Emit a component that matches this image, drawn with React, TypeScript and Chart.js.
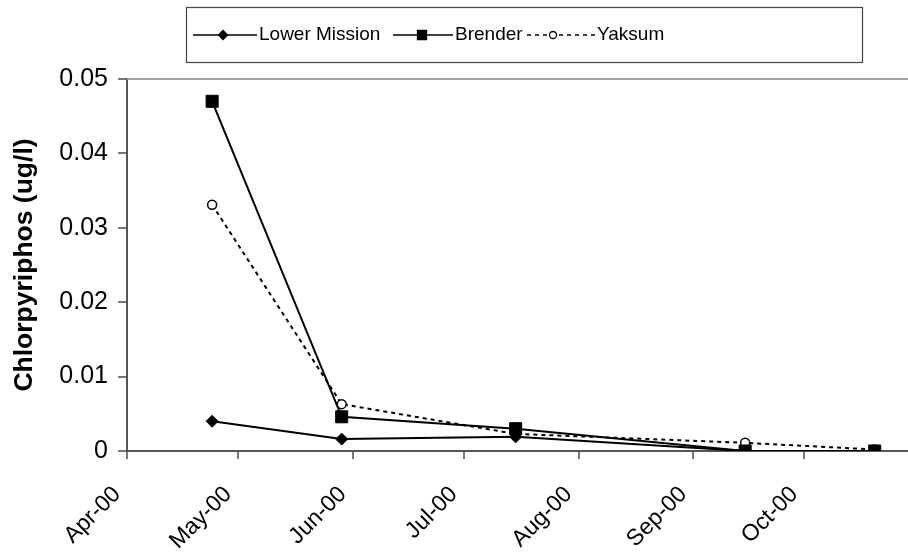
import React, { useEffect, useRef } from "react";
import { Chart, registerables } from "chart.js";

Chart.register(...registerables);

const seriesNames = ["Lower Mission", "Brender", "Yaksum"];
const sampleDates = ["2000-04-24", "2000-05-29", "2000-07-15", "2000-09-15", "2000-10-20"];
const lowerMission = [0.004, 0.0016, 0.0019, 0.0, 0.0];
const brender = [0.047, 0.0046, 0.003, 0.0, 0.0];
const yaksum = [0.0331, 0.0063, 0.0023, 0.0011, 0.0002];
const xTickDates = ["2000-04-01", "2000-05-01", "2000-06-01", "2000-07-01", "2000-08-01", "2000-09-01", "2000-10-01"];
const xTickLabels = ["Apr-00", "May-00", "Jun-00", "Jul-00", "Aug-00", "Sep-00", "Oct-00"];
const xMinDate = "2000-04-01";
const xMaxDate = "2000-10-29";
const yTickValues = [0, 0.01, 0.02, 0.03, 0.04, 0.05];
const yTickLabels = ["0", "0.01", "0.02", "0.03", "0.04", "0.05"];
const yTitle = "Chlorpyriphos (ug/l)";

const FONT = "'Liberation Sans', Arial, sans-serif";
const DAY = 86400000;
const base = Date.UTC(2000, 3, 1);
const toDay = (s: string) => {
  const [y, m, d] = s.split("-").map(Number);
  return (Date.UTC(y, m - 1, d) - base) / DAY;
};

function drawMarker(ctx: CanvasRenderingContext2D, style: string, x: number, y: number, r: number, fill: string) {
  ctx.save();
  ctx.beginPath();
  if (style === "rectRot") {
    ctx.moveTo(x, y - r);
    ctx.lineTo(x + r, y);
    ctx.lineTo(x, y + r);
    ctx.lineTo(x - r, y);
    ctx.closePath();
  } else if (style === "rect") {
    ctx.rect(x - r, y - r, 2 * r, 2 * r);
  } else {
    ctx.arc(x, y, r, 0, Math.PI * 2);
  }
  ctx.fillStyle = fill;
  ctx.fill();
  ctx.setLineDash([]);
  ctx.lineWidth = 1.3;
  ctx.strokeStyle = "#000";
  ctx.stroke();
  ctx.restore();
}

// legend layout (box and entry placement)
const legendBox = { l: 186, t: 7, r: 862, b: 62 };
const legendEntryX = [193, 393, 527];
const legendSampleW = [64, 60, 68];
const legendMarkerOff = [30, 29, 26];
const legendMarkers = [
  { style: "rectRot", r: 4.5, fill: "#000" },
  { style: "rect", r: 4.5, fill: "#000" },
  { style: "circle", r: 3.5, fill: "#fff" },
];

const legendPlugin = {
  id: "excelLegend",
  afterDraw(chart: any) {
    const ctx = chart.ctx as CanvasRenderingContext2D;
    const { l, t, r, b } = legendBox;
    ctx.save();
    ctx.strokeStyle = "#444";
    ctx.lineWidth = 1.2;
    ctx.strokeRect(l + 0.5, t + 0.5, r - l, b - t);
    ctx.font = `19px ${FONT}`;
    ctx.textBaseline = "middle";
    ctx.fillStyle = "#000";
    const cy = (t + b) / 2 + 0.5;
    chart.data.datasets.forEach((ds: any, i: number) => {
      const x = legendEntryX[i];
      const sampleW = legendSampleW[i];
      ctx.save();
      ctx.strokeStyle = "#000";
      ctx.lineWidth = 1.6;
      ctx.setLineDash(ds.borderDash || []);
      ctx.beginPath();
      ctx.moveTo(x, cy);
      ctx.lineTo(x + sampleW, cy);
      ctx.stroke();
      ctx.restore();
      const m = legendMarkers[i];
      drawMarker(ctx, m.style, x + legendMarkerOff[i], cy, m.r, m.fill);
      ctx.fillText(ds.label, x + sampleW + 2, cy);
    });
    ctx.restore();
  },
};

const borderPlugin = {
  id: "plotBorder",
  beforeDatasetsDraw(chart: any) {
    const { ctx, chartArea } = chart;
    ctx.save();
    ctx.strokeStyle = "#a0a0a0";
    ctx.lineWidth = 2;
    ctx.beginPath();
    ctx.moveTo(chartArea.left, chartArea.top);
    ctx.lineTo(chartArea.right, chartArea.top);
    ctx.stroke();
    ctx.restore();
  },
};

export default function App() {
  const ref = useRef<HTMLCanvasElement>(null);
  useEffect(() => {
    const canvas = ref.current!;
    const days = sampleDates.map(toDay);
    const mk = (vals: number[]) => vals.map((v, i) => ({ x: days[i], y: v }));
    const chart = new Chart(canvas, {
      type: "line",
      data: {
        datasets: [
          {
            label: seriesNames[0],
            data: mk(lowerMission),
            borderColor: "#000",
            borderWidth: 2,
            pointStyle: "rectRot",
            pointRadius: 6,
            pointBackgroundColor: "#000",
            pointBorderColor: "#000",
            pointBorderWidth: 1,
            order: 1,
          },
          {
            label: seriesNames[1],
            data: mk(brender),
            borderColor: "#000",
            borderWidth: 2,
            pointStyle: "rect",
            pointRadius: 8.5,
            pointBackgroundColor: "#000",
            pointBorderColor: "#000",
            pointBorderWidth: 1,
            order: 0,
          },
          {
            label: seriesNames[2],
            data: mk(yaksum),
            borderColor: "#000",
            borderWidth: 2,
            borderDash: [4, 4],
            pointStyle: "circle",
            pointRadius: 4.5,
            pointBackgroundColor: "#fff",
            pointBorderColor: "#000",
            pointBorderWidth: 1.5,
            order: 2,
          },
        ] as any,
      },
      options: {
        animation: false,
        responsive: false,
        events: [],
        layout: { autoPadding: false, padding: { left: 0, right: 0, top: 79, bottom: 0 } },
        plugins: { legend: { display: false }, tooltip: { enabled: false } },
        scales: {
          x: {
            type: "linear",
            min: toDay(xMinDate),
            max: toDay(xMaxDate),
            afterBuildTicks: (scale: any) => {
              scale.ticks = xTickDates.map((d) => ({ value: toDay(d) }));
            },
            afterFit: (scale: any) => {
              scale.height = 105;
              scale.paddingLeft = 0;
              scale.paddingRight = 0;
            },
            ticks: {
              autoSkip: false,
              minRotation: 45,
              maxRotation: 45,
              padding: 22,
              labelOffset: -10,
              color: "#000",
              font: { family: FONT, size: 23 },
              callback: (_v: any, i: number) => xTickLabels[i],
            },
            grid: { drawOnChartArea: false, drawTicks: true, tickLength: 8, color: "#777", lineWidth: 2 },
            border: { display: true, color: "#555", width: 2 },
          },
          y: {
            type: "linear",
            min: 0,
            max: 0.05,
            afterBuildTicks: (scale: any) => {
              scale.ticks = yTickValues.map((v) => ({ value: v }));
            },
            afterFit: (scale: any) => {
              scale.width = 127;
            },
            ticks: {
              padding: 10,
              color: "#000",
              font: { family: FONT, size: 25 },
              callback: (_v: any, i: number) => yTickLabels[i],
            },
            title: {
              display: true,
              text: yTitle,
              color: "#000",
              font: { family: FONT, size: 26.5, weight: "bold" },
              padding: { top: 9, bottom: 0 },
            },
            grid: { drawOnChartArea: false, drawTicks: true, tickLength: 9, color: "#777", lineWidth: 2 },
            border: { display: true, color: "#555", width: 2 },
          },
        },
      } as any,
      plugins: [legendPlugin, borderPlugin],
    });
    return () => chart.destroy();
  }, []);
  return (
    <div style={{ position: "fixed", left: 0, top: 0, width: 908, height: 556, background: "#fff" }}>
      <canvas ref={ref} width={908} height={556} style={{ display: "block" }} />
    </div>
  );
}
